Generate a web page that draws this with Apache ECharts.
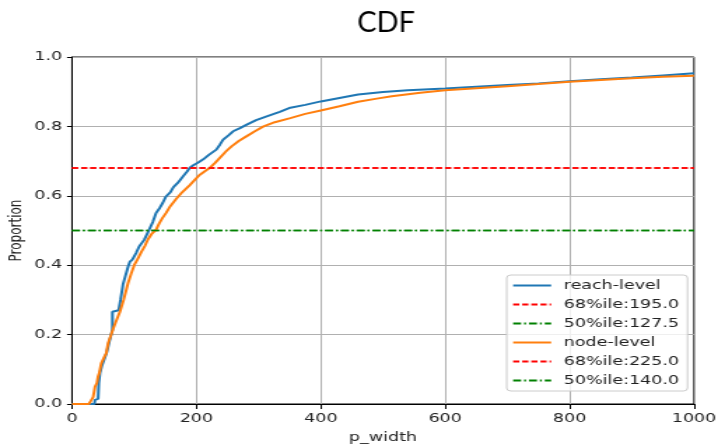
<!DOCTYPE html>
<html>
<head>
<meta charset="utf-8">
<script src="https://cdn.jsdelivr.net/npm/echarts@6/dist/echarts.min.js"></script>
<style>
  html, body { margin: 0; padding: 0; background: #fff; overflow: hidden; }
  /* the figure is drawn narrow and stretched sideways to its final 718px width */
  #chart { width: 513px; height: 447px; transform: scaleX(1.3996); transform-origin: 0 0; }
</style>
</head>
<body>
<div id="chart"></div>
<script>
// Empirical CDF of p_width, reach-level
const reachX = [0, 36, 37, 42, 43, 43, 45, 48, 52, 56,
  60, 63, 65, 65, 75, 78, 82, 86, 90,
  93, 97, 103, 108, 116, 124, 130, 135, 141, 146,
  151, 158, 163, 170, 178, 185, 189, 195, 203, 211,
  220, 232, 238, 243, 252, 259, 270, 281, 296, 313,
  334, 351, 375, 400, 430, 460, 500, 540, 600, 650,
  700, 750, 800, 850, 900, 950, 1000];
const reachY = [0, 0, 0.012, 0.015, 0.02, 0.06, 0.09, 0.11, 0.13, 0.15,
  0.18, 0.2, 0.214, 0.266, 0.27, 0.30, 0.345, 0.37, 0.395,
  0.41, 0.416, 0.435, 0.454, 0.473, 0.502, 0.525, 0.55, 0.565, 0.58,
  0.598, 0.61, 0.625, 0.637, 0.655, 0.67, 0.68, 0.688, 0.696, 0.705,
  0.718, 0.733, 0.748, 0.762, 0.775, 0.786, 0.795, 0.805, 0.818, 0.829,
  0.842, 0.854, 0.862, 0.872, 0.882, 0.892, 0.899, 0.904, 0.909, 0.914,
  0.919, 0.924, 0.93, 0.936, 0.941, 0.947, 0.953];

// Empirical CDF of p_width, node-level
const nodeX = [0, 27, 30, 34, 37, 40, 42, 44, 47, 52,
  55, 58, 63, 66, 70, 77, 83, 90, 95, 100,
  105, 112, 117, 122, 128, 135, 140, 145, 151, 158,
  167, 177, 189, 197, 205, 213, 221, 230, 238, 247,
  257, 268, 281, 294, 308, 326, 351, 375, 400, 430,
  460, 490, 514, 560, 600, 650, 700, 750, 800, 850,
  900, 950, 1000];
const nodeY = [0, 0, 0.008, 0.02, 0.05, 0.06, 0.08, 0.09, 0.117, 0.136,
  0.146, 0.175, 0.2, 0.216, 0.235, 0.266, 0.3, 0.348, 0.375, 0.4,
  0.416, 0.44, 0.455, 0.474, 0.49, 0.502, 0.52, 0.535, 0.55, 0.57,
  0.59, 0.61, 0.63, 0.645, 0.66, 0.67, 0.68, 0.695, 0.71, 0.727,
  0.743, 0.758, 0.772, 0.786, 0.8, 0.812, 0.824, 0.836, 0.846, 0.858,
  0.871, 0.88, 0.887, 0.897, 0.904, 0.91, 0.916, 0.922, 0.929, 0.934,
  0.939, 0.943, 0.946];

// Percentile levels and the p_width value at each level
const pctLevels = [68, 50];
const reachPct = [195.0, 127.5];
const nodePct = [225.0, 140.0];

const xTicks = [0, 200, 400, 600, 800, 1000];
const yTicks = [0.0, 0.2, 0.4, 0.6, 0.8, 1.0];

const S = 718 / 513;          // horizontal stretch applied by CSS
const px = v => v / S;        // final-pixel x distance -> canvas x distance

const BLUE = '#1f77b4', ORANGE = '#ff7f0e', RED = '#ff0000', GREEN = '#008000';
const pctStyle = [
  { color: RED, type: [4.4, 2.1] },
  { color: GREEN, type: [5.7, 2.1, 1.4, 2.1] }
];
const FONT = 'DejaVu Sans';
const FS = 12.5;

function zip(xs, ys) { return xs.map((x, i) => [x, ys[i]]); }

function cdfSeries(name, xs, ys, color) {
  return {
    name, type: 'line', data: zip(xs, ys), symbol: 'none',
    lineStyle: { color, width: 2 }, itemStyle: { color },
    emphasis: { disabled: true }, silent: true, animation: false
  };
}
// horizontal percentile line; suffix keeps the two groups' names distinct
function pctSeries(level, value, i, suffix) {
  const st = pctStyle[i];
  return {
    name: level + '%ile:' + value.toFixed(1) + suffix,
    type: 'line', symbol: 'none',
    data: [[xTicks[0], level / 100], [xTicks[xTicks.length - 1], level / 100]],
    lineStyle: { color: st.color, width: 1.5, type: st.type },
    itemStyle: { color: st.color },
    emphasis: { disabled: true }, silent: true, animation: false
  };
}

const series = [cdfSeries('reach-level', reachX, reachY, BLUE)];
pctLevels.forEach((lv, i) => series.push(pctSeries(lv, reachPct[i], i, '')));
series.push(cdfSeries('node-level', nodeX, nodeY, ORANGE));
pctLevels.forEach((lv, i) => series.push(pctSeries(lv, nodePct[i], i, ' ')));

const chart = echarts.init(document.getElementById('chart'), null, { renderer: 'canvas' });
chart.setOption({
  animation: false,
  backgroundColor: '#ffffff',
  graphic: [{
    type: 'text', x: px(386), y: 23, scaleX: 1 / S,
    style: { text: 'CDF', font: '29px Lato', fill: '#000', textAlign: 'center', textVerticalAlign: 'middle' }
  }],
  grid: {
    left: px(72), right: px(24), top: 57, bottom: 43,
    containLabel: false, outerBoundsMode: 'none',
    show: true, borderColor: '#000', borderWidth: 1, backgroundColor: 'transparent'
  },
  legend: {
    orient: 'vertical', left: px(506.7), top: 275,
    padding: [4, 6, 4, 3.6],
    itemWidth: px(38), itemHeight: 14, itemGap: 6,
    borderColor: '#cccccc', borderWidth: 1, borderRadius: 3,
    backgroundColor: 'rgba(255,255,255,0.8)',
    itemStyle: { opacity: 0, borderWidth: 0 },
    textStyle: { fontFamily: FONT, fontSize: FS, color: '#222', padding: [0, 0, 0, 4] },
    formatter: n => n.trim(),
    data: series.map(s => s.name)
  },
  xAxis: {
    type: 'value', min: xTicks[0], max: xTicks[xTicks.length - 1], interval: 200,
    name: 'p_width', nameLocation: 'middle', nameGap: 27, nameMoveOverlap: false,
    nameTextStyle: { fontFamily: FONT, fontSize: FS, color: '#222' },
    axisLine: { show: true, lineStyle: { color: '#000', width: 1 } },
    axisTick: { show: true, length: 5, lineStyle: { color: '#000' } },
    axisLabel: { fontFamily: FONT, fontSize: FS, color: '#222', margin: 8, formatter: v => String(v) },
    splitLine: { show: true, lineStyle: { color: '#b0b0b0', width: 1 } }
  },
  yAxis: {
    type: 'value', min: yTicks[0], max: yTicks[yTicks.length - 1], interval: 0.2,
    name: 'Proportion', nameLocation: 'middle', nameGap: 34, nameRotate: 90, nameMoveOverlap: false,
    nameTextStyle: { fontFamily: FONT, fontSize: 12, color: '#222' },
    axisLine: { show: true, lineStyle: { color: '#000', width: 1 } },
    axisTick: { show: true, length: px(5), lineStyle: { color: '#000' } },
    axisLabel: { fontFamily: FONT, fontSize: FS, color: '#222', margin: 7, formatter: v => v.toFixed(1) },
    splitLine: { show: true, lineStyle: { color: '#b0b0b0', width: 1 } }
  },
  series
});
</script>
</body>
</html>
